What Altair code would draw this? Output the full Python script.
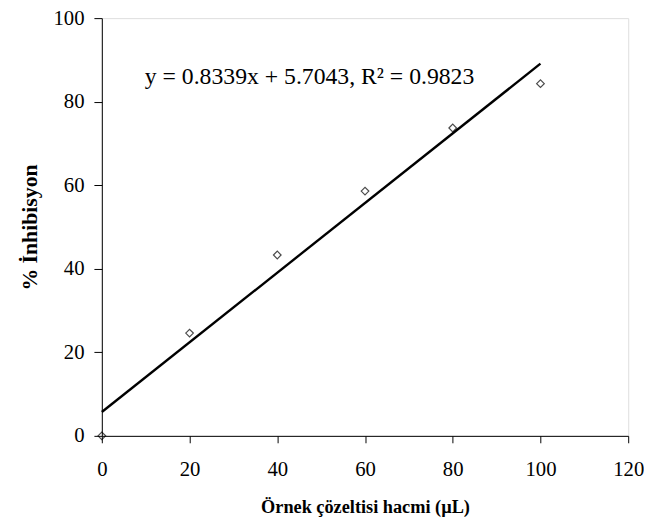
import altair as alt
import pandas as pd

x_vals = [0, 20, 40, 60, 80, 100]
y_vals = [0, 24.6, 43.3, 58.6, 73.7, 84.3]
slope = 0.8339
intercept = 5.7043
fit_x = [0, 100]
eq_text = "y = 0.8339x + 5.7043, R² = 0.9823"
eq_pos = [9.8, 85.8]

pts = pd.DataFrame({"x": x_vals, "y": y_vals})
fit = pd.DataFrame({"x": fit_x, "y": [slope * v + intercept for v in fit_x]})
ann = pd.DataFrame({"x": [eq_pos[0]], "y": [eq_pos[1]], "t": [eq_text]})

FONT = "Liberation Serif"

xscale = alt.Scale(domain=[0, 120], nice=False, zero=True)
yscale = alt.Scale(domain=[0, 100], nice=False)

xaxis = alt.Axis(title="Örnek çözeltisi hacmi (µL)", values=[0, 20, 40, 60, 80, 100, 120],
                 grid=False, tickSize=7, labelPadding=16, titlePadding=19,
                 domainColor="black", tickColor="black", labelFont=FONT, titleFont=FONT,
                 labelFontSize=21, titleFontSize=18.5, titleFontWeight="bold",
                 labelColor="black", titleColor="black", labelFlush=False)
yaxis = alt.Axis(title="% İnhibisyon", values=[0, 20, 40, 60, 80, 100],
                 grid=False, tickSize=8, labelPadding=10, titlePadding=12,
                 domainColor="black", tickColor="black", labelFont=FONT, titleFont=FONT,
                 labelFontSize=21, titleFontSize=22, titleFontWeight="bold",
                 labelColor="black", titleColor="black", labelFlush=False)

line = alt.Chart(fit).mark_line(color="black", strokeWidth=2.4, clip=False).encode(
    x=alt.X("x:Q", scale=xscale, axis=xaxis),
    y=alt.Y("y:Q", scale=yscale, axis=yaxis),
)
points = alt.Chart(pts).mark_point(shape="diamond", filled=False, color="black",
                                   size=60, strokeWidth=1.2, clip=False).encode(
    x=alt.X("x:Q", scale=xscale),
    y=alt.Y("y:Q", scale=yscale),
)
text = alt.Chart(ann).mark_text(align="left", baseline="middle", font=FONT,
                                fontSize=24, color="black").encode(
    x=alt.X("x:Q", scale=xscale),
    y=alt.Y("y:Q", scale=yscale),
    text="t:N",
)

chart = (line + points + text).properties(
    width=533, height=423,
    autosize=alt.AutoSizeParams(type="none"),
    padding={"left": 95, "top": 7, "right": 16, "bottom": 86},
).configure_view(stroke="#888888", strokeWidth=1).configure(background="white")

chart.save("out.html", embed_options={"renderer": "svg", "actions": False})
